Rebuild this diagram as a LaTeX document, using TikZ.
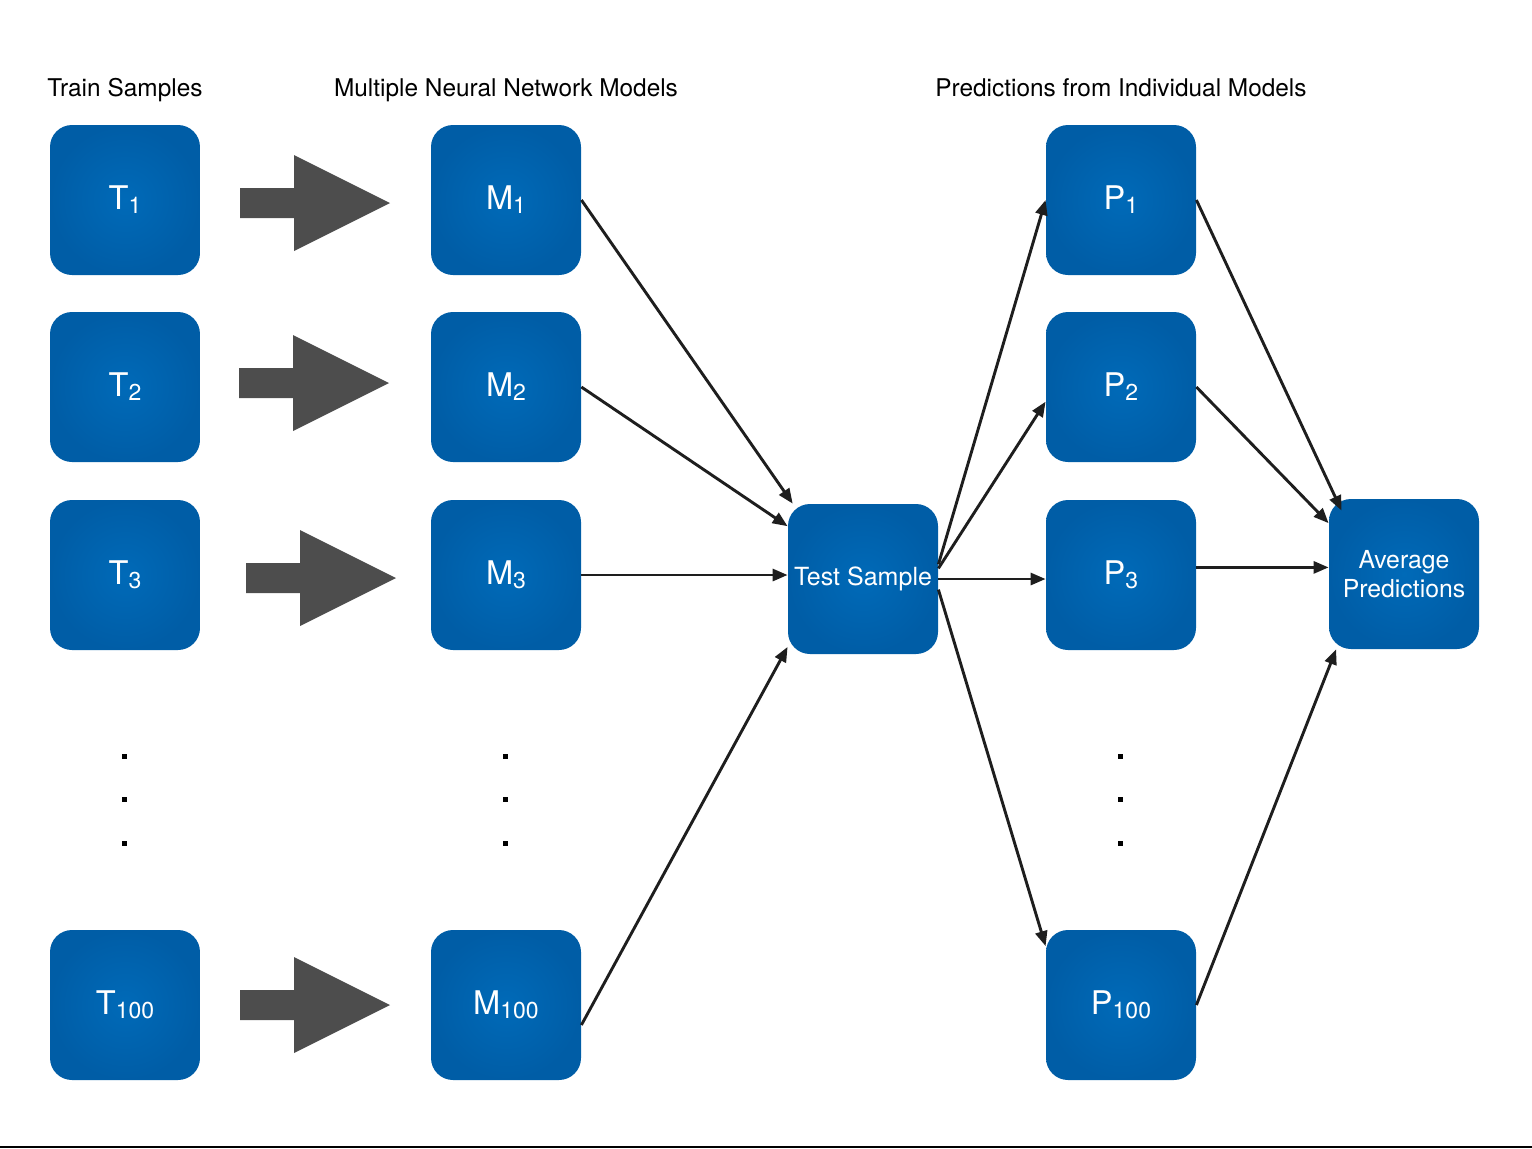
\documentclass[tikz,border=0pt]{standalone}
\usepackage{fontspec}
\setmainfont{TeX Gyre Heros}
\usetikzlibrary{arrows.meta,positioning}
\definecolor{boxblue}{RGB}{0,106,184}
\definecolor{boxedge}{RGB}{0,93,166}
\definecolor{arrowgray}{RGB}{77,77,77}
\definecolor{linkgray}{RGB}{30,30,30}
\newcommand{\idnode}[2]{%
  #1{\fontsize{11.5}{12}\selectfont\raisebox{-2pt}{#2}}%
}

\begin{document}
\begin{tikzpicture}[
        x=0.5pt, y=-0.5pt,
        every node/.style={font=\fontsize{12.2}{14.5}\selectfont},
        box/.style={rounded corners=11pt, minimum size=75pt, inner sep=0pt,
          inner color=boxblue, outer color=boxedge, text=white, align=center},
        big/.style={font=\fontsize{16.3}{16}\selectfont},
        title/.style={anchor=base},
        link/.style={-{Triangle[length=7.5pt,width=6pt]}, line width=1.45pt, draw=linkgray},
      ]
      \useasboundingbox (0,0) rectangle (1532,1148);
      % column titles
      \node[title] (ttrain) at (125,96) {Train Samples};
      \node[title] (tmodels) at (506,96) {Multiple Neural Network Models};
      \node[title] (tpreds) at (1121,96) {Predictions from Individual Models};
      % train samples
      \node[box,big] (T1) at (125,200) {\idnode{T}{1}};
      \node[box,big] (T2) at (125,387) {\idnode{T}{2}};
      \node[box,big] (T3) at (125,575) {\idnode{T}{3}};
      \node[box,big] (T100) at (125,1005) {\idnode{T}{100}};
      % models
      \node[box,big] (M1) at (506,200) {\idnode{M}{1}};
      \node[box,big] (M2) at (506,387) {\idnode{M}{2}};
      \node[box,big] (M3) at (506,575) {\idnode{M}{3}};
      \node[box,big] (M100) at (506,1005) {\idnode{M}{100}};
      % test sample
      \node[box,font=\fontsize{12.5}{14}\selectfont] (test) at (863,579) {Test Sample};
      % predictions
      \node[box,big] (P1) at (1121,200) {\idnode{P}{1}};
      \node[box,big] (P2) at (1121,387) {\idnode{P}{2}};
      \node[box,big] (P3) at (1121,575) {\idnode{P}{3}};
      \node[box,big] (P100) at (1121,1005) {\idnode{P}{100}};
      % average
      \node[box,font=\fontsize{12.4}{14.5}\selectfont] (avg) at (1404,574) {Average\\Predictions};
      % block arrows
      \foreach \x/\y in {240/203,239/383,246/578,240/1005}
        \fill[arrowgray] (\x,\y-15) -- (\x+54,\y-15) -- (\x+54,\y-48) -- (\x+150,\y)
          -- (\x+54,\y+48) -- (\x+54,\y+15) -- (\x,\y+15) -- cycle;
      % dots
      \foreach \x in {124,505,1120}
        \foreach \y in {756,799,843}
          \fill (\x-2.5,\y-2.5) rectangle (\x+2.5,\y+2.5);
      % models to test sample
      \draw[link] (M1.east) -- (test.133);
      \draw[link] (M2.east) -- (test.145);
      \draw[link] (M3.east) -- (M3.east -| test.west);
      \draw[link] ([yshift=-10pt]M100.east) -- (test.222);
      % test sample to predictions
      \draw[link] (test.11) -- (P1.west);
      \draw[link] (test.8) -- (P2.191);
      \draw[link] (test.east) -- (test.east -| P3.west);
      \draw[link] (test.-8) -- (P100.142);
      % predictions to average
      \draw[link] (P1.east) -- ([shift={(13,12)}]avg.north west);
      \draw[link] (P2.east) -- (avg.146);
      \draw[link] (avg.175 -| P3.east) -- (avg.175);
      \draw[link] (P100.east) -- (avg.228);
      \draw[line width=1pt] (0,1147) -- (1532,1147);
\end{tikzpicture}
\end{document}
